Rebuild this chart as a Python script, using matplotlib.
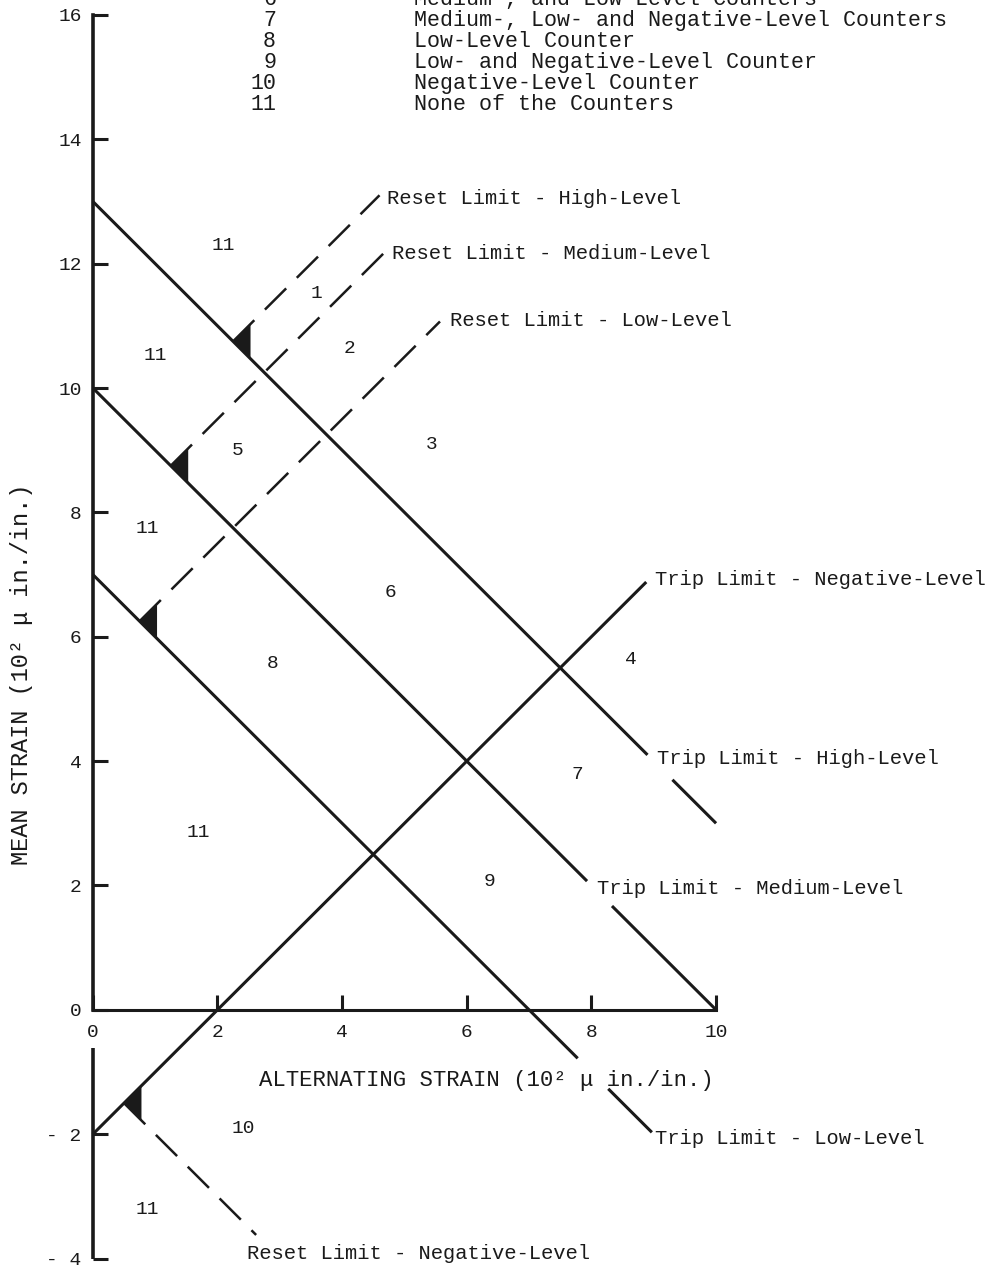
import numpy as np
import matplotlib.pyplot as plt

plt.rcParams['font.family'] = ['Liberation Mono', 'DejaVu Sans Mono']
INK = '#1a1a1a'

# trip limits: mean = icpt + slope * alternating
trip_slope = [-1, -1, -1, 1]
trip_icpt = [13, 10, 7, -2]
trip_spans = [[(0, 8.9), (9.3, 10)],
              [(0, 7.93), (8.33, 10)],
              [(0, 7.78), (8.27, 8.97)],
              [(0, 8.88)]]
trip_text = ['Trip Limit - High-Level', 'Trip Limit - Medium-Level',
             'Trip Limit - Low-Level', 'Trip Limit - Negative-Level']
trip_text_xy = [(9.05, 4.07), (8.09, 1.99), (9.02, -2.04), (9.02, 6.95)]

# reset limits (dashed), start where they meet the trip line
reset_slope = [1, 1, 1, -1]
reset_icpt = [8.5, 7.5, 5.5, -1]
reset_end = [4.6, 4.7, 5.57, 2.62]
reset_text = ['Reset Limit - High-Level', 'Reset Limit - Medium-Level',
              'Reset Limit - Low-Level', 'Reset Limit - Negative-Level']
reset_text_xy = [(4.72, 13.08), (4.80, 12.20), (5.73, 11.11), (2.47, -3.89)]

# region numbers
region_ids = ['11', '1', '11', '2', '5', '3', '11', '6', '8', '4', '7', '11', '9', '10', '11']
region_x = [2.10, 3.58, 1.00, 4.12, 2.33, 5.44, 0.88, 4.77, 2.89, 8.64, 7.78, 1.69, 6.37, 2.41, 0.88]
region_y = [12.32, 11.56, 10.56, 10.66, 9.02, 9.12, 7.77, 6.74, 5.60, 5.66, 3.81, 2.89, 2.09, -1.88, -3.18]

# key (rows above 6 are off the sheet)
key_ids = ['6', '7', '8', '9', '10', '11']
key_desc = ['Medium-, and Low-Level Counters',
            'Medium-, Low- and Negative-Level Counters',
            'Low-Level Counter',
            'Low- and Negative-Level Counter',
            'Negative-Level Counter',
            'None of the Counters']

xticks = [0, 2, 4, 6, 8, 10]
yticks = [-4, -2, 0, 2, 4, 6, 8, 10, 12, 14, 16]
ytick_labels = ['- 4', '- 2', '0', '2', '4', '6', '8', '10', '12', '14', '16']

fig = plt.figure(figsize=(9.94, 12.71), dpi=100)
ax = fig.add_axes([0, 0, 1, 1])
ax.set_xlim(-1.49, 14.46)
ax.set_ylim(-4.20, 16.24)

# axes drawn at the origin
for s in ['top', 'right']:
    ax.spines[s].set_visible(False)
ax.spines['left'].set_position(('data', 0))
ax.spines['bottom'].set_position(('data', 0))
ax.spines['left'].set_bounds(0, 16)
ax.spines['bottom'].set_bounds(0, 10)
ax.spines['left'].set_linewidth(2.6)
ax.spines['bottom'].set_linewidth(2.2)
ax.spines['left'].set_color(INK)
ax.spines['bottom'].set_color(INK)
ax.plot([0, 0], [-0.62, -4], color=INK, lw=2.6, solid_capstyle='butt')

ax.set_xticks(xticks)
ax.set_yticks(yticks)
ax.set_yticklabels(ytick_labels)
ax.tick_params(axis='both', direction='in', length=11, width=2.2, color=INK,
               labelsize=14, labelcolor=INK)
ax.tick_params(axis='x', pad=10)
ax.tick_params(axis='y', pad=8)

# trip limits
for m, b, spans in zip(trip_slope, trip_icpt, trip_spans):
    for x0, x1 in spans:
        xs = np.array([x0, x1])
        ax.plot(xs, b + m * xs, color=INK, lw=2.2, solid_capstyle='butt')

# reset limits with the filled marker where they leave the trip line
for i in range(4):
    mr, br, xe = reset_slope[i], reset_icpt[i], reset_end[i]
    mt, bt = trip_slope[i], trip_icpt[i]
    xi = (bt - br) / (mr - mt)
    xs = np.array([xi, xe])
    ax.plot(xs, br + mr * xs, color=INK, lw=1.8, ls=(0, (12, 6)))
    d = 0.28
    tri_x = [xi, xi + d, xi + d]
    tri_y = [br + mr * xi, br + mr * (xi + d), bt + mt * (xi + d)]
    ax.fill(tri_x, tri_y, color=INK, lw=0)

for s, (x, y) in zip(trip_text, trip_text_xy):
    ax.text(x, y, s, fontsize=14.8, color=INK, ha='left', va='center_baseline')
for s, (x, y) in zip(reset_text, reset_text_xy):
    ax.text(x, y, s, fontsize=14.8, color=INK, ha='left', va='center_baseline')

for s, x, y in zip(region_ids, region_x, region_y):
    ax.text(x, y, s, fontsize=14, color=INK, ha='center', va='center_baseline')

key_top = 16.29
key_step = 0.338
for k, (n, s) in enumerate(zip(key_ids, key_desc)):
    y = key_top - k * key_step
    ax.text(2.94, y, n, fontsize=15.6, color=INK, ha='right', va='center_baseline')
    ax.text(5.15, y, s, fontsize=15.6, color=INK, ha='left', va='center_baseline')

ax.text(6.32, -1.09, 'ALTERNATING STRAIN (10\u00b2 \u03bc in./in.)', fontsize=16,
        color=INK, ha='center', va='center_baseline')
ax.text(-1.14, 5.40, 'MEAN STRAIN (10\u00b2 \u03bc in./in.)', fontsize=17,
        color=INK, ha='center', va='center', rotation=90)

fig.savefig('out.png', dpi=100)
